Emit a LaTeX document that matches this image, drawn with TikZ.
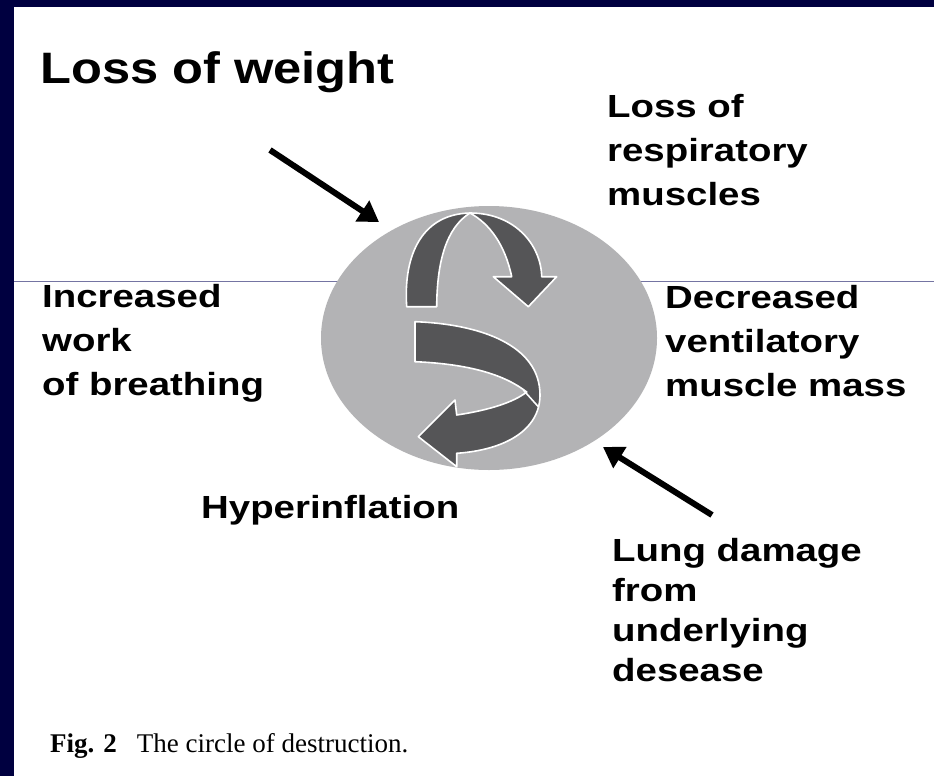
\documentclass[tikz,border=0pt]{standalone}
\usepackage{fontspec}
\usepackage{tikz}
\usetikzlibrary{arrows.meta,positioning,calc}
\newfontfamily\lblfont[FakeStretch=1.2]{Liberation Sans}
\newfontfamily\ttlfont[FakeStretch=1.15]{Liberation Sans}
\newfontfamily\capfont{Liberation Serif}
\definecolor{NavyBand}{HTML}{000040}
\definecolor{RuleGray}{HTML}{7474A2}
\definecolor{LungGray}{HTML}{B3B3B5}
\definecolor{RibbonGray}{HTML}{555557}

\begin{document}
\begin{tikzpicture}[x=1pt,y=-1pt,
  ribbon/.style={fill=RibbonGray,draw=white,line width=1.6pt,line join=round},
  pointer/.style={line width=6pt,-{Triangle[length=20pt,width=24pt]}},
  lbl/.style={anchor=base west,inner sep=0pt,align=left,
    font=\lblfont\bfseries\fontsize{32}{44}\selectfont}]
  \useasboundingbox (0,0) rectangle (934,776);
  \fill[NavyBand] (0,0) rectangle (934,776);
  \fill[white] (14,7) rectangle (934,776);
  \draw[RuleGray,line width=1pt] (14,281)--(934,281);

  % the lung and the two twisted arrows
  \fill[LungGray] (489,338) ellipse [x radius=168,y radius=132];
  \draw[ribbon] (406.7,306.7) .. controls (403,252) and (424,214) .. (470,213)
    .. controls (515,213) and (541,245) .. (541.7,276.7)
    -- (556.7,276.7) -- (528.3,306.7) -- (493.3,276.7) -- (511.7,276.7)
    .. controls (505,245) and (490,224) .. (470,213)
    .. controls (446,228) and (437,262) .. (436.7,306.7) -- cycle;
  \draw[ribbon] (415,321.7) .. controls (480,324) and (540,345) .. (540,395)
    .. controls (540,430) and (505,450) .. (456.7,453.3)
    -- (456.7,466.7) -- (418.3,436.7) -- (455,400) -- (456.7,415)
    .. controls (490,410) and (514,402) .. (526.7,392)
    .. controls (505,375) and (470,364) .. (415,361.7) -- cycle;
  \draw[white,line width=1.6pt] (523.3,390)--(538.3,406.7);

  % labels (base = last line)
  \node[lbl,font=\ttlfont\bfseries\fontsize{44}{50}\selectfont] (weight) at (40,83) {Loss of weight};
  \node[lbl] (resp) at (607,205) {Loss of\\respiratory\\muscles};
  \node[lbl] (breath) at (42,395) {Increased\\work\\of breathing};
  \node[lbl] (vent) at (665,396) {Decreased\\ventilatory\\muscle mass};
  \node[lbl] (hyper) at (201,518) {Hyperinflation};
  \node[lbl,font=\lblfont\bfseries\fontsize{32}{40}\selectfont] (lung) at (612,681)
    {Lung damage\\from\\underlying\\desease};
  \node[anchor=base west,inner sep=0pt,font=\capfont\fontsize{27}{32}\selectfont] (cap) at (50,752)
    {\textbf{Fig. 2}\hspace{20pt}The circle of destruction.};

  \coordinate (wtail) at (270,150);
  \coordinate (wtip) at (379,222);
  \coordinate (ltail) at (712,515);
  \coordinate (ltip) at (603,447);
  \draw[pointer] (wtail)--(wtip);
  \draw[pointer] (ltail)--(ltip);
\end{tikzpicture}
\end{document}
